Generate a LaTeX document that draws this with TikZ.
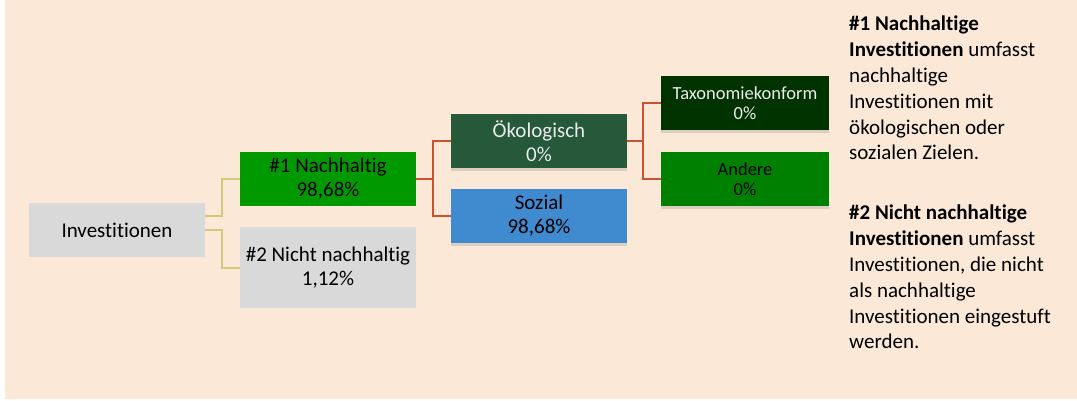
\documentclass[tikz,border=0pt]{standalone}
\usepackage{fontspec}
\setmainfont{Carlito}[Ligatures=NoCommon]
\usetikzlibrary{shadows}
\definecolor{peach}{RGB}{251,232,215}
\definecolor{boxgray}{RGB}{217,217,217}
\definecolor{greenmid}{RGB}{0,153,0}
\definecolor{greendark}{RGB}{37,89,58}
\definecolor{greendeep}{RGB}{0,51,0}
\definecolor{greenplain}{RGB}{0,128,0}
\definecolor{skyblue}{RGB}{64,138,208}
\definecolor{khaki}{RGB}{214,201,122}
\definecolor{rust}{RGB}{200,82,50}
\tikzstyle{category}=[minimum width=176pt, minimum height=54pt, inner sep=0pt, align=center, font=\fontsize{21}{24}\selectfont]
\tikzstyle{subcategory}=[category, minimum width=168pt, font=\fontsize{18.5}{20}\selectfont]
\tikzstyle{shadowed}=[drop shadow={shadow xshift=0pt, shadow yshift=-3pt, opacity=0.25}]
\tikzstyle{link}=[line width=2pt]
\tikzstyle{note}=[anchor=north west, inner sep=0pt, align=left, font=\fontsize{21}{25.8}\selectfont]

\begin{document}
\begin{tikzpicture}[x=1pt, y=-1pt]
      \useasboundingbox (0, 0) rectangle (1077, 400);
      \fill[white] (0, 0) rectangle (1077, 400);
      \fill[peach] (5, 0) rectangle (1077, 399);
      \node[category, fill=boxgray] (inv) at (117, 230) {Investitionen};
      \node[category, fill=greenmid] (nachhaltig) at (328, 179) {\#1 Nachhaltig\\98,68\%};
      \node[category, fill=boxgray, minimum height=81pt] (nicht) at (328, 267.5) {\#2 Nicht nachhaltig\\1,12\%};
      \node[category, shadowed, fill=greendark, text=white!92!black] (oeko) at (539, 141) {Ökologisch\\0\%};
      \node[category, shadowed, fill=skyblue] (sozial) at (539, 216) {Sozial\\98,68\%};
      \node[subcategory, shadowed, fill=greendeep, text=white!92!black] (taxo) at (745, 103) {Taxonomiekonform\\0\%};
      \node[subcategory, shadowed, fill=greenplain] (andere) at (745, 179) {Andere\\0\%};
      \draw[link, khaki] ([yshift=14pt]inv.east) -- ++(17, 0) |- (nachhaltig.west);
      \draw[link, khaki] (inv.east) -- ++(17, 0) |- (nicht.west);
      \draw[link, rust] (nachhaltig.east) -- ++(17, 0) |- (oeko.west);
      \draw[link, rust] (nachhaltig.east) -- ++(17, 0) |- (sozial.west);
      \draw[link, rust] (oeko.east) -- ++(16, 0) |- (taxo.west);
      \draw[link, rust] (oeko.east) -- ++(16, 0) |- (andere.west);
      \node[note] (note_one) at (849, 16) {\textbf{\#1 Nachhaltige}\\\textbf{Investitionen} umfasst\\nachhaltige\\Investitionen mit\\ökologischen oder\\sozialen Zielen.};
      \node[note] (note_two) at (849, 205) {\textbf{\#2 Nicht nachhaltige}\\\textbf{Investitionen} umfasst\\Investitionen, die nicht\\als nachhaltige\\Investitionen eingestuft\\werden.};
\end{tikzpicture}
\end{document}
